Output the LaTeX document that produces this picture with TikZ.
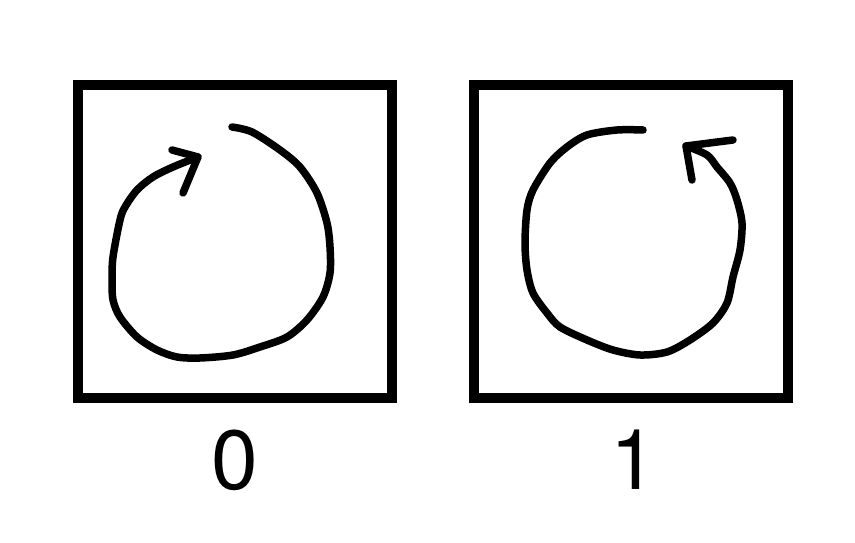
\documentclass[tikz,border=0pt]{standalone}
\usepackage{fontspec}
\newfontfamily\labelfont{TeX Gyre Heros}
\usetikzlibrary{positioning}

\tikzset{
    frame/.style={draw, line width=10pt, minimum width=314pt, minimum height=313pt, inner sep=0pt},
    digit/.style={anchor=base, inner sep=0pt, font=\labelfont\fontsize{84}{84}\selectfont},
    stroke/.style={line width=7.5pt, line cap=round, line join=round}
}

\begin{document}
\begin{tikzpicture}[x=1pt, y=1pt]
        \useasboundingbox (0,0) rectangle (855,543);
        \foreach \v/\x/\lx in {0/235/235, 1/631/634} {
            \node[frame] (box\v) at (\x,301.5) {};
            \node[digit] (lab\v) at (\lx,53) {\v};
        }
        % clockwise turn
        \draw[stroke] plot[smooth] coordinates {(232,416) (252,411) (280,393) (300,376) (317,350) (327,320)
            (330,296) (330,270) (323,246) (307,223) (287,206) (260,196) (233,188) (200,185) (177,186)
            (157,193) (137,206) (120,226) (113,243) (112,263) (113,286) (120,323) (125,336) (137,353)
            (153,366) (173,376) (198,386)};
        \draw[stroke] (172,393) -- (198,386) -- (183,350);
        % counter-clockwise turn
        \draw[stroke] plot[smooth] coordinates {(643,413) (617,413) (587,408) (567,396) (550,380) (533,353)
            (527,333) (525,300) (527,273) (533,250) (547,230) (560,216) (587,203) (613,193) (640,188)
            (667,191) (690,203) (713,220) (727,240) (733,266) (740,293) (742,320) (737,343) (730,360)
            (717,376) (707,388) (686,397)};
        \draw[stroke] (733,403) -- (686,397) -- (692,363);
    \end{tikzpicture}
\end{document}
